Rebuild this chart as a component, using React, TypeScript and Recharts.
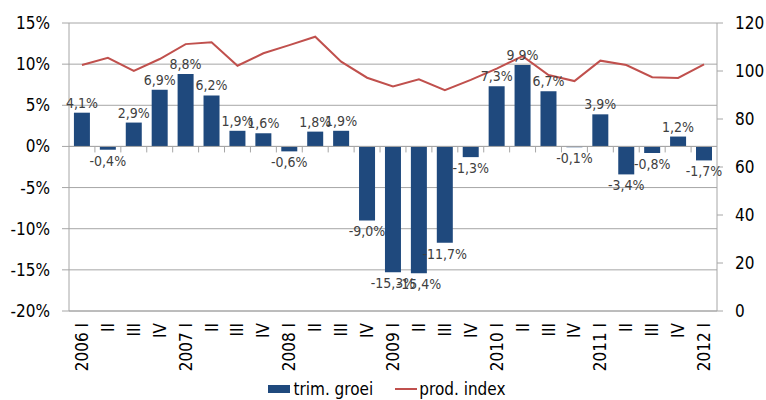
import {
  ComposedChart,
  Bar,
  Line,
  XAxis,
  YAxis,
  CartesianGrid,
  ReferenceLine,
  Legend,
  LabelList,
} from "recharts";

const quarters = [
  "2006 I", "II", "III", "IV",
  "2007 I", "II", "III", "IV",
  "2008 I", "II", "III", "IV",
  "2009 I", "II", "III", "IV",
  "2010 I", "II", "III", "IV",
  "2011 I", "II", "III", "IV",
  "2012 I",
];

// trim. groei (%)
const growth = [
  4.1, -0.4, 2.9, 6.9,
  8.8, 6.2, 1.9, 1.6,
  -0.6, 1.8, 1.9, -9.0,
  -15.3, -15.4, -11.7, -1.3,
  7.3, 9.9, 6.7, -0.1,
  3.9, -3.4, -0.8, 1.2,
  -1.7,
];

// prod. index (right axis)
const prodIndex = [
  102.5, 105.5, 100, 105,
  111.2, 112, 102.2, 107.4,
  110.8, 114.3, 103.9, 97.2,
  93.6, 96.5, 92, 96.3,
  101, 106.2, 98.3, 95.8,
  104.3, 102.5, 97.4, 97.1,
  102.8,
];

const leftTicks = [-20, -15, -10, -5, 0, 5, 10, 15];
const rightTicks = [0, 20, 40, 60, 80, 100, 120];

const data = quarters.map((q, i) => ({
  q,
  groei: growth[i],
  index: prodIndex[i],
}));

const FONT = '"Liberation Sans Narrow", "Arial Narrow", "DejaVu Sans Condensed", sans-serif';
const BLUE = "#1F497D";
const RED = "#C0504D";
const GRID = "#A6A6A6";

const fmtPct = (v: number) => `${v.toString().replace(".", ",")}%`;
const fmtLabel = (v: number) => `${v.toFixed(1).replace(".", ",")}%`;

function QuarterTick({ x, y, payload }: any) {
  return (
    <text
      x={x}
      y={y}
      transform={`rotate(-90, ${x}, ${y})`}
      textAnchor="end"
      dominantBaseline="central"
      fontFamily={FONT}
      fontSize={17}
      fill="#000"
    >
      {payload.value}
    </text>
  );
}

function BarLabel({ x, y, width, height, value }: any) {
  const top = Math.min(y, y + height);
  const bottom = Math.max(y, y + height);
  const cx = x + width / 2;
  const ly = value >= 0 ? top - 5 : bottom + 16;
  return (
    <text x={cx} y={ly} textAnchor="middle" fontFamily={FONT} fontSize={14} fill="#404040">
      {fmtLabel(value)}
    </text>
  );
}

function ZeroLine({ x1, y1, x2 }: any) {
  const step = (x2 - x1) / quarters.length;
  return (
    <g>
      <line x1={x1} y1={y1} x2={x2} y2={y1} stroke={GRID} strokeWidth={1} />
      {quarters.slice(1).map((q, i) => (
        <line
          key={q + i}
          x1={x1 + step * (i + 1)}
          x2={x1 + step * (i + 1)}
          y1={y1}
          y2={y1 + 6}
          stroke={GRID}
        />
      ))}
    </g>
  );
}

function LegendContent() {
  return (
    <div
      style={{
        display: "flex",
        justifyContent: "center",
        alignItems: "center",
        fontFamily: FONT,
        fontSize: 17,
        color: "#000",
        height: 22,
        paddingLeft: 8,
      }}
    >
      <span style={{ display: "inline-block", width: 22, height: 8, background: BLUE, marginRight: 3 }} />
      <span style={{ marginRight: 22 }}>trim. groei</span>
      <span style={{ display: "inline-block", width: 22, height: 2, background: RED, marginRight: 2 }} />
      <span>prod. index</span>
    </div>
  );
}

export default function App() {
  return (
    <div style={{ width: 766, height: 400, background: "#fff" }}>
      <style>{`body{margin:0}`}</style>
      <ComposedChart
        width={766}
        height={400}
        data={data}
        margin={{ top: 23, right: 0, bottom: 0, left: 0 }}
        barCategoryGap="19%"
      >
        <CartesianGrid vertical={false} stroke={GRID} yAxisId="left" />
        <XAxis
          dataKey="q"
          interval={0}
          tick={<QuarterTick />}
          tickLine={false}
          axisLine={{ stroke: GRID }}
          height={67}
          tickMargin={6}
        />
        <YAxis
          yAxisId="left"
          domain={[-20, 15]}
          ticks={leftTicks}
          tickFormatter={fmtPct}
          width={69}
          tickSize={7}
          tickMargin={12}
          axisLine={{ stroke: GRID }}
          tickLine={{ stroke: GRID }}
          tick={{ fontFamily: FONT, fontSize: 17, fill: "#000" }}
          allowDataOverflow
        />
        <YAxis
          yAxisId="right"
          orientation="right"
          domain={[0, 120]}
          ticks={rightTicks}
          width={49}
          tickSize={6}
          tickMargin={12}
          axisLine={{ stroke: GRID }}
          tickLine={{ stroke: GRID }}
          tick={{ fontFamily: FONT, fontSize: 17, fill: "#000", textAnchor: "start" }}
        />
        <ReferenceLine yAxisId="left" y={0} shape={<ZeroLine />} />
        <Bar yAxisId="left" dataKey="groei" name="trim. groei" fill={BLUE} isAnimationActive={false}>
          <LabelList dataKey="groei" content={<BarLabel />} />
        </Bar>
        <Line
          yAxisId="right"
          dataKey="index"
          name="prod. index"
          stroke={RED}
          strokeWidth={2}
          dot={false}
          type="linear"
          isAnimationActive={false}
        />
        <Legend verticalAlign="bottom" height={22} content={<LegendContent />} />
      </ComposedChart>
    </div>
  );
}
